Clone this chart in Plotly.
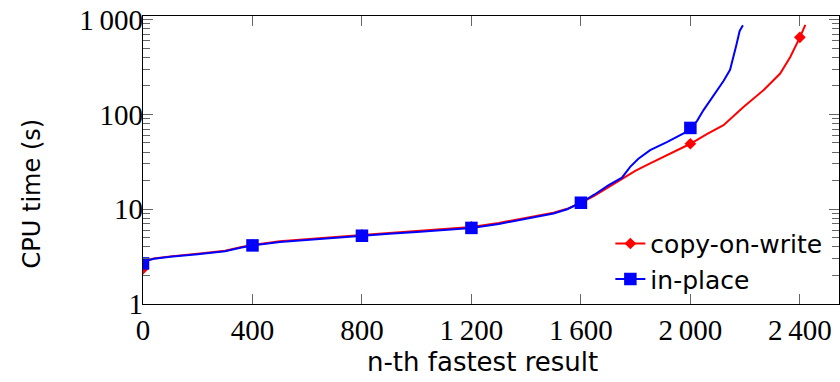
import plotly.graph_objects as go

# ---- data ----
cow_x = [0, 10, 40, 100, 200, 300, 360, 400, 500, 600, 700, 800, 900, 1000, 1100,
         1200, 1300, 1400, 1500, 1550, 1600, 1650, 1700, 1750, 1800, 1853, 1914,
         1960, 2000, 2060, 2121, 2194, 2267, 2328, 2365, 2400, 2420]
cow_y = [2.35, 2.85, 3.02, 3.18, 3.4, 3.65, 4.0, 4.2, 4.58, 4.85, 5.1, 5.35, 5.6, 5.88, 6.18,
         6.5, 7.15, 8.05, 9.2, 10.1, 11.7, 13.9, 17.0, 21.0, 25.5, 30.4, 37.2,
         43.0, 49.0, 62.0, 77.0, 120.0, 180.0, 270.0, 404.0, 650.0, 880.0]

inp_x = [0, 10, 40, 100, 200, 300, 360, 400, 500, 600, 700, 800, 900, 1000, 1100,
         1200, 1300, 1400, 1500, 1550, 1600, 1650, 1700, 1750, 1780, 1810, 1853, 1914,
         1975, 2000, 2024, 2048, 2084, 2121, 2145, 2158, 2168, 2180, 2192]
inp_y = [2.68, 2.85, 3.0, 3.15, 3.35, 3.6, 3.95, 4.15, 4.5, 4.75, 5.0, 5.25, 5.5, 5.75, 6.05,
         6.35, 7.0, 7.9, 9.0, 10.0, 11.7, 14.3, 17.8, 21.5, 28.0, 34.0, 42.0, 51.0,
         63.0, 72.0, 85.0, 111.0, 155.0, 225.0, 295.0, 400.0, 540.0, 760.0, 870.0]

cow_marks_x = [0, 400, 800, 1200, 1600, 2000, 2400]
inp_marks_x = [0, 400, 800, 1200, 1600, 2000]

x_ticks = [0, 400, 800, 1200, 1600, 2000, 2400]
x_ticktext = ["0", "400", "800", "1\u2009200", "1\u2009600", "2\u2009000", "2\u2009400"]
y_ticks = [1, 10, 100, 1000]
y_ticktext = ["1", "10", "100", "1\u2009000"]
y_minor = [m * d for d in (1, 10, 100) for m in range(2, 10)]

x_title = "n-th fastest result"
y_title = "CPU time (s)"

RED = "#ff0000"
BLUE = "#0000ff"
SANS = "DejaVu Sans"
SERIF = "Liberation Serif"

cow_lookup = dict(zip(cow_x, cow_y))
inp_lookup = dict(zip(inp_x, inp_y))

fig = go.Figure()
fig.add_trace(go.Scatter(x=cow_x, y=cow_y, mode="lines",
                         line=dict(color=RED, width=2), showlegend=False))
fig.add_trace(go.Scatter(x=cow_marks_x, y=[cow_lookup[v] for v in cow_marks_x],
                         mode="markers", marker=dict(symbol="diamond", size=9, color=RED),
                         showlegend=False))
fig.add_trace(go.Scatter(x=inp_x, y=inp_y, mode="lines",
                         line=dict(color=BLUE, width=2), showlegend=False))
fig.add_trace(go.Scatter(x=inp_marks_x, y=[inp_lookup[v] for v in inp_marks_x],
                         mode="markers", marker=dict(symbol="square", size=12.5, color=BLUE),
                         showlegend=False))
# legend entries
fig.add_trace(go.Scatter(x=[None], y=[None], mode="lines+markers", name="copy-on-write",
                         legendgroup="a",
                         line=dict(color=RED, width=2),
                         marker=dict(symbol="diamond", size=9, color=RED)))
fig.add_trace(go.Scatter(x=[None], y=[None], mode="lines+markers", name="in-place",
                         legendgroup="b",
                         line=dict(color=BLUE, width=2),
                         marker=dict(symbol="square", size=12.5, color=BLUE)))

fig.update_layout(
    width=840, height=382,
    margin=dict(l=143, r=1, t=16, b=78, autoexpand=False),
    paper_bgcolor="white", plot_bgcolor="white",
    showlegend=True,
    legend=dict(x=0.6715, y=0.289, xanchor="left", yanchor="top",
                bgcolor="rgba(0,0,0,0)", borderwidth=0,
                font=dict(family=SANS, size=25, color="black"),
                traceorder="grouped", tracegroupgap=0),
    annotations=[
        dict(text=x_title, xref="paper", yref="paper", x=0.4885, y=-0.2,
             xanchor="center", yanchor="middle", showarrow=False,
             font=dict(family=SANS, size=26, color="black")),
        dict(text=y_title, xref="paper", yref="paper", x=-0.1595, y=0.384,
             xanchor="center", yanchor="middle", showarrow=False, textangle=-90,
             font=dict(family=SANS, size=24, color="black")),
    ],
)
fig.update_xaxes(
    automargin=False,
    range=[0, 2543], showgrid=False, zeroline=False,
    showline=True, linecolor="black", linewidth=1.2, mirror="ticks",
    ticks="inside", ticklen=10, tickcolor="#666", tickwidth=1,
    tickvals=x_ticks, ticktext=x_ticktext, ticklabeloverflow="allow",
    tickfont=dict(family=SERIF, size=29, color="black"),
)
fig.update_yaxes(
    automargin=False,
    type="log", range=[0, 3.038], showgrid=False, zeroline=False,
    showline=True, linecolor="black", linewidth=1.2, mirror="ticks",
    ticks="inside", ticklen=10, tickcolor="#666", tickwidth=1,
    tickvals=y_ticks, ticktext=y_ticktext, ticklabelstandoff=-7,
    ticklabeloverflow="allow",
    minor=dict(tickvals=y_minor, ticks="inside", ticklen=7, tickcolor="#666",
               tickwidth=1, showgrid=False),
    tickfont=dict(family=SERIF, size=29, color="black"),
)

# remove the browser's default 8px page margin so the figure sits at (0, 0)
fig.write_html("out.html", config={"displayModeBar": False},
               post_script="document.body.style.margin='0';")
